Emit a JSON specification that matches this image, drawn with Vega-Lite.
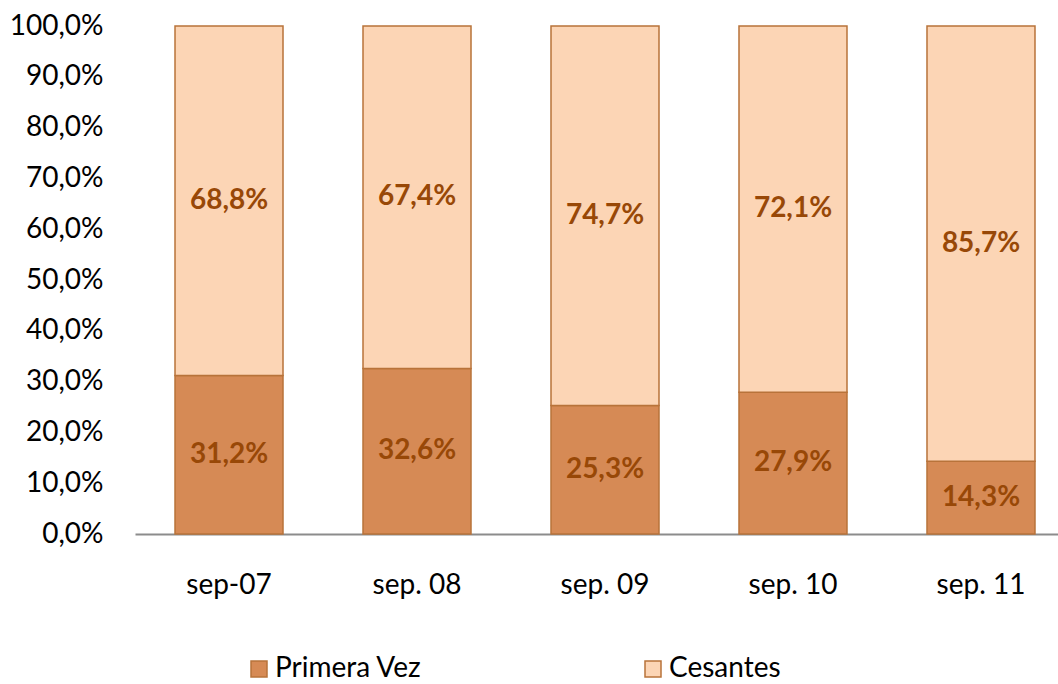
{
  "$schema": "https://vega.github.io/schema/vega-lite/v6.json",
  "width": 923,
  "height": 508,
  "autosize": {"type": "none"},
  "padding": {"left": 135, "top": 26, "right": 0, "bottom": 150},
  "background": "white",
  "config": {
    "locale": {"number": {"decimal": ",", "thousands": ".", "grouping": [3], "currency": ["", " €"]}},
    "view": {"stroke": null},
    "font": "Lato"
  },
  "data": {
    "values": [
      {"period": "sep-07", "series": "Primera Vez", "value": 0.312},
      {"period": "sep-07", "series": "Cesantes", "value": 0.688},
      {"period": "sep. 08", "series": "Primera Vez", "value": 0.326},
      {"period": "sep. 08", "series": "Cesantes", "value": 0.674},
      {"period": "sep. 09", "series": "Primera Vez", "value": 0.253},
      {"period": "sep. 09", "series": "Cesantes", "value": 0.747},
      {"period": "sep. 10", "series": "Primera Vez", "value": 0.279},
      {"period": "sep. 10", "series": "Cesantes", "value": 0.721},
      {"period": "sep. 11", "series": "Primera Vez", "value": 0.143},
      {"period": "sep. 11", "series": "Cesantes", "value": 0.857}
    ]
  },
  "transform": [
    {"stack": "value", "groupby": ["period"], "sort": [{"field": "series", "order": "descending"}], "as": ["v0", "v1"]},
    {"calculate": "(datum.v0 + datum.v1) / 2", "as": "mid"}
  ],
  "encoding": {
    "x": {
      "field": "period",
      "type": "nominal",
      "sort": null,
      "scale": {"range": [0, 940], "paddingInner": 0.4255, "paddingOuter": 0.2128},
      "axis": {
        "title": null,
        "labelAngle": 0,
        "labelFontSize": 28,
        "labelFont": "Lato",
        "labelColor": "black",
        "ticks": false,
        "tickSize": 0,
        "domainColor": "#8C8C8C",
        "domainWidth": 2,
        "labelPadding": 59,
        "labelBaseline": "alphabetic"
      }
    }
  },
  "layer": [
    {
      "mark": {"type": "bar", "stroke": "#B8733A", "strokeWidth": 1.5},
      "encoding": {
        "y": {
          "field": "v0",
          "type": "quantitative",
          "scale": {"domain": [0, 1]},
          "axis": {
            "title": null,
            "values": [0, 0.1, 0.2, 0.3, 0.4, 0.5, 0.6, 0.7, 0.8, 0.9, 1],
            "format": ".1%",
            "grid": false,
            "domain": false,
            "ticks": false,
            "tickSize": 0,
            "labelPadding": 32,
            "labelFontSize": 28,
            "labelFont": "Lato",
            "labelColor": "black"
          }
        },
        "y2": {"field": "v1"},
        "color": {
          "field": "series",
          "type": "nominal",
          "scale": {"domain": ["Primera Vez", "Cesantes"], "range": ["#D68A55", "#FCD5B5"]},
          "legend": {
            "title": null,
            "orient": "none",
            "direction": "horizontal",
            "legendX": 110,
            "legendY": 629,
            "symbolType": "square",
            "symbolSize": 256,
            "symbolStrokeColor": "#B8733A",
            "symbolStrokeWidth": 1.5,
            "labelFontSize": 28,
            "labelFont": "Lato",
            "labelColor": "black",
            "labelOffset": 2,
            "columnPadding": 217
          }
        }
      }
    },
    {
      "mark": {"type": "text", "fontSize": 28, "fontWeight": "bold", "font": "Lato", "color": "#984807"},
      "encoding": {
        "y": {"field": "mid", "type": "quantitative", "scale": {"domain": [0, 1]}},
        "text": {"field": "value", "type": "quantitative", "format": ".1%"}
      }
    }
  ]
}
